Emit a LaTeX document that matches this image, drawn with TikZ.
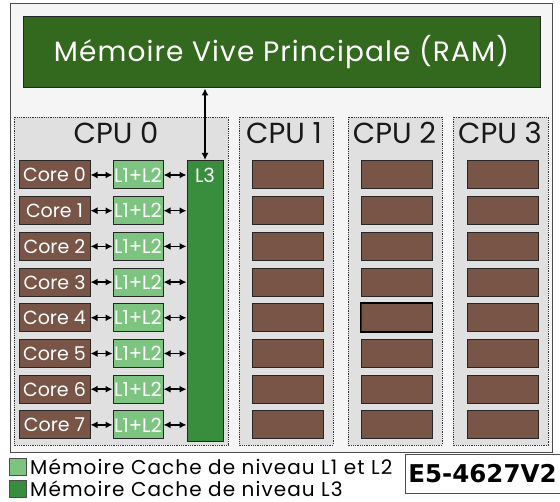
\documentclass[tikz,border=0pt]{standalone}
\usepackage{fontspec}
\setmainfont{Poppins}
\newfontfamily\refsfont{DejaVu Sans}
\usetikzlibrary{arrows.meta}
\definecolor{ramgreen}{HTML}{33691E}
\definecolor{lthree}{HTML}{388E3C}
\definecolor{lonetwo}{HTML}{7CC47F}
\definecolor{corebrown}{HTML}{795548}
\definecolor{cpugray}{HTML}{E0E0E0}
\definecolor{framegray}{HTML}{F5F5F5}
\tikzset{
  box/.style={draw=black!85, line width=1pt, inner sep=0pt, text=white},
  core/.style={box, fill=corebrown, minimum width=71, minimum height=28,
    font=\fontsize{19}{19}\selectfont},
  cache/.style={box, fill=lonetwo, minimum width=50, minimum height=28,
    font=\fontsize{19.5}{19.5}\selectfont},
  cpu/.style={draw=black!80, densely dotted, line width=0.8pt, fill=cpugray},
  cpulabel/.style={font=\fontsize{29}{29}\selectfont, text=black!90, inner sep=0pt},
  legend/.style={draw=black!70, line width=0.6pt, minimum size=17, inner sep=0pt},
  legendtxt/.style={anchor=west, inner sep=0pt,
    font=\fontsize{20}{20}\selectfont\addfontfeature{LetterSpace=5.5}},
  link/.style={{Latex[length=7pt,width=7pt]}-{Latex[length=7pt,width=7pt]}, line width=1.4pt},
}
\begin{document}
\begin{tikzpicture}[x=1pt, y=-1pt]
  \useasboundingbox (0,0) rectangle (560,502);
  \fill[white] (0,0) rectangle (560,502);

  % cadre general
  \draw[black!70, fill=framegray, line width=0.8pt] (10,3) rectangle (552,452);
  \node[box, fill=ramgreen, minimum width=517, minimum height=71,
    font=\fontsize{28}{28}\selectfont\addfontfeature{LetterSpace=4}] (ram) at (281.5,52.5)
    {Mémoire Vive Principale (RAM)};

  % processeurs
  \draw[cpu] (14,117) rectangle (228,445);
  \draw[cpu] (239,117) rectangle (333,445);
  \draw[cpu] (348,117) rectangle (442,445);
  \draw[cpu] (453,117) rectangle (548,445);
  \node[cpulabel] (cpu0) at (116,133) {CPU 0};
  \node[cpulabel] (cpu1) at (284,133) {CPU 1};
  \node[cpulabel] (cpu2) at (394.5,133) {CPU 2};
  \node[cpulabel] (cpu3) at (500,133) {CPU 3};

  \node[box, fill=lthree, minimum width=36, minimum height=281, anchor=north] (l3) at (205,160) {};
  \node[text=white, font=\fontsize{19.5}{19.5}\selectfont, inner sep=0pt] (l3txt) at (205,175) {L3};
  \draw[link] (ram.south -| l3) -- (l3.north);

  \foreach \i in {0,...,7}{
    \pgfmathsetmacro{\yy}{175+35.7*\i}
    \node[core] (core\i) at (54.5,\yy) {Core \i};
    \node[cache] (lc\i) at (138,\yy) {L1+L2};
    \draw[link] (core\i) -- (lc\i);
    \draw[link] (lc\i.east) -- (lc\i.east -| l3.west);
    \node[core] (ca\i) at (287.5,\yy) {};
    \node[core] (cb\i) at (396.5,\yy) {};
    \node[core] (cc\i) at (502.5,\yy) {};
  }
  \draw[line width=1.8pt] (cb4.south west) rectangle (cb4.north east);

  % legende
  \node[legend, fill=lonetwo] (leg1) at (18,466.5) {};
  \node[legend, fill=lthree] (leg2) at (18,488.5) {};
  \node[legendtxt] (leg1txt) at (30,466.5) {Mémoire Cache de niveau L1 et L2};
  \node[legendtxt] (leg2txt) at (30,488.5) {Mémoire Cache de niveau L3};
  \node[draw=black!70, fill=white, line width=0.8pt, anchor=north west,
    minimum height=39, minimum width=170, inner sep=3pt, text width=164,
    font=\refsfont\bfseries\fontsize{24.5}{24.5}\selectfont] (ref) at (405,454) {E5-4627V2};
\end{tikzpicture}
\end{document}
